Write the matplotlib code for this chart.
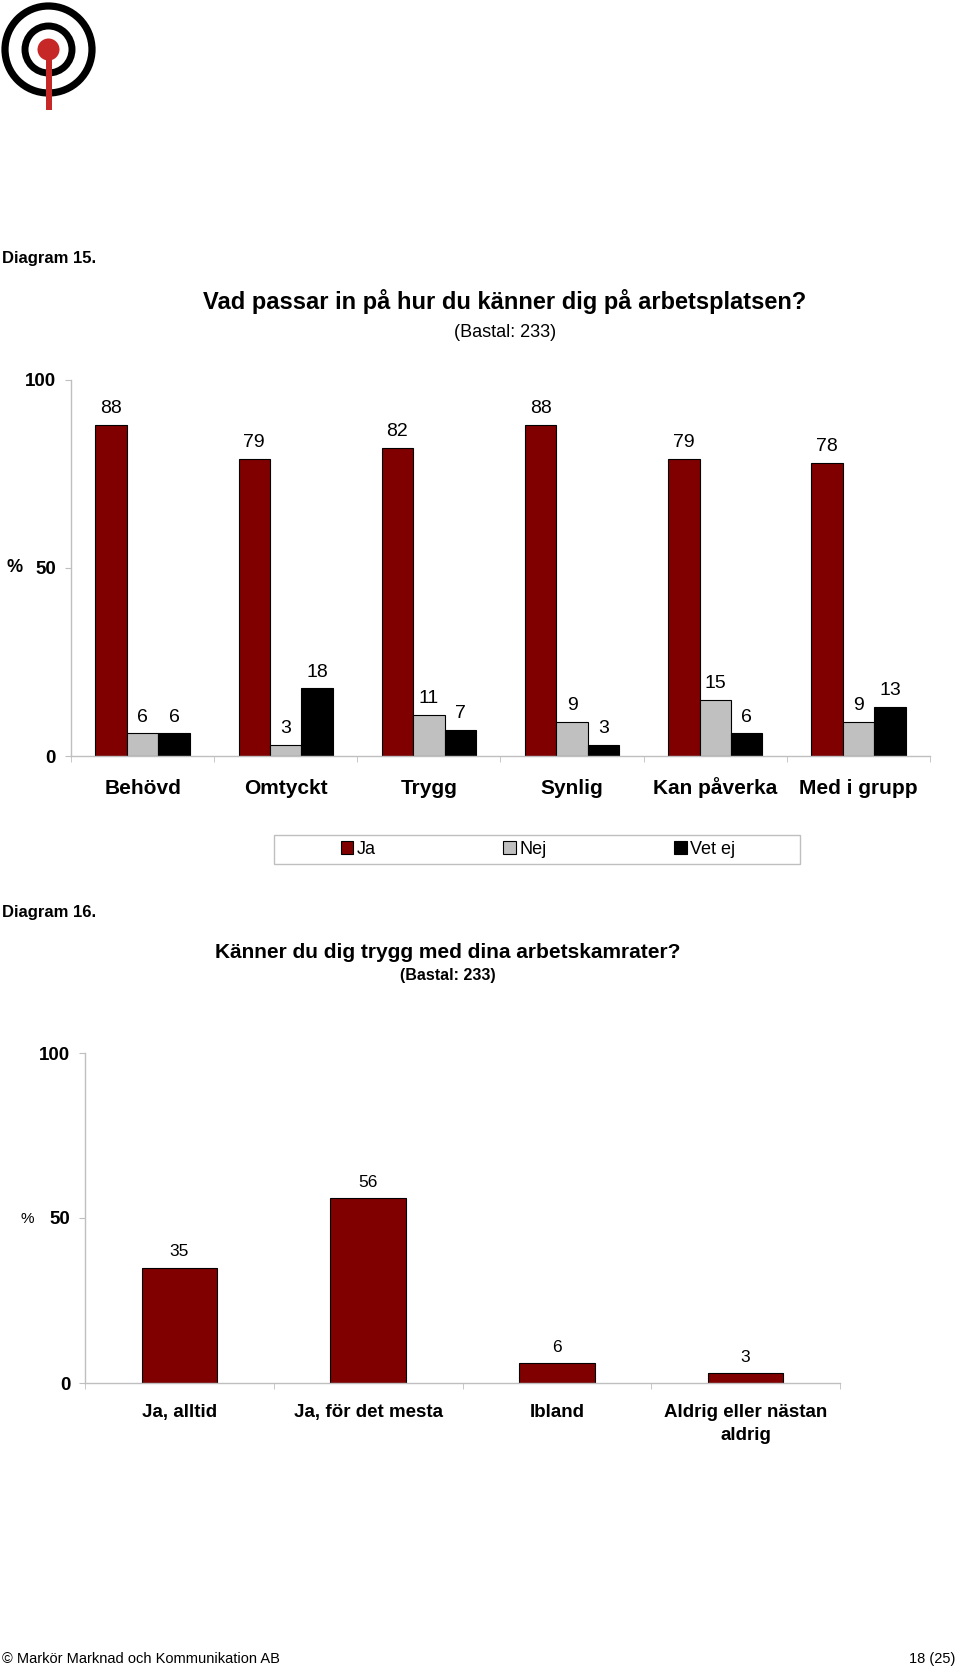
import matplotlib.pyplot as plt
from matplotlib.patches import Circle, Rectangle
import numpy as np

# data
kategorier15 = ['Behövd', 'Omtyckt', 'Trygg', 'Synlig', 'Kan påverka', 'Med i grupp']
ja = [88, 79, 82, 88, 79, 78]
nej = [6, 3, 11, 9, 15, 9]
vet_ej = [6, 18, 7, 3, 6, 13]
serier = ['Ja', 'Nej', 'Vet ej']

kategorier16 = ['Ja, alltid', 'Ja, för det mesta', 'Ibland', 'Aldrig eller nästan\naldrig']
varden16 = [35, 56, 6, 3]

yticks = [0, 50, 100]

W, H = 960, 1669
RED = '#800000'
GRAY = '#C0C0C0'
AXC = '#BFBFBF'
ARIAL = ['Liberation Sans', 'DejaVu Sans']

plt.rcParams['font.family'] = ARIAL

fig = plt.figure(figsize=(W / 100, H / 100), dpi=100)


def fx(px):
    return px / W


def fy(py):
    return 1 - py / H


def axrect(left, top, right, bottom):
    return [fx(left), fy(bottom), (right - left) / W, (bottom - top) / H]


def style_axes(ax, n, pad_y, pad_x):
    for s in ['top', 'right']:
        ax.spines[s].set_visible(False)
    for s in ['left', 'bottom']:
        ax.spines[s].set_color(AXC)
        ax.spines[s].set_linewidth(1.0)
    ax.set_ylim(0, 100)
    ax.set_xlim(-0.5, n - 0.5)
    ax.set_yticks(yticks)
    ax.set_yticklabels([str(t) for t in yticks], fontsize=13.5, fontweight='bold')
    ax.tick_params(axis='y', length=4, color=AXC, pad=pad_y)
    ax.set_xticks(np.arange(n))
    ax.set_xticks(np.arange(n + 1) - 0.5, minor=True)
    ax.tick_params(axis='x', which='major', length=0, pad=pad_x)
    ax.tick_params(axis='x', which='minor', length=4, color=AXC)


# logo
lax = fig.add_axes([0, fy(115), 115 / W, 115 / H])
lax.set_xlim(0, 115)
lax.set_ylim(115, 0)
lax.axis('off')
lax.add_patch(Circle((48.5, 49.5), 43.5, fill=False, lw=5.2, ec='black'))
lax.add_patch(Circle((48.5, 49.5), 23.5, fill=False, lw=5.0, ec='black'))
lax.add_patch(Rectangle((45.5, 55), 6, 55, color='#C62828', lw=0))
lax.add_patch(Circle((48.5, 49.5), 11, color='#C62828', lw=0))

# Diagram 15
fig.text(fx(2), fy(259), 'Diagram 15.', fontsize=12, fontweight='bold', va='center')
fig.text(fx(505), fy(301), 'Vad passar in på hur du känner dig på arbetsplatsen?',
         fontsize=17, fontweight='bold', ha='center', va='center')
fig.text(fx(505), fy(332), '(Bastal: 233)', fontsize=13, ha='center', va='center')

ax1 = fig.add_axes(axrect(71, 380, 930, 756))
x = np.arange(len(kategorier15))
bw = 0.22
for off, vals, col in zip([-bw, 0, bw], [ja, nej, vet_ej], [RED, GRAY, 'black']):
    bars = ax1.bar(x + off, vals, width=bw, color=col, edgecolor='black', linewidth=0.8)
    for b, v in zip(bars, vals):
        ax1.annotate(str(v), (b.get_x() + b.get_width() / 2, v), xytext=(0, 8.5),
                     textcoords='offset points', ha='center', va='baseline', fontsize=14)
style_axes(ax1, len(kategorier15), 7, 27.4)
ax1.set_xticklabels(kategorier15, fontsize=15, fontweight='bold', va='baseline')
fig.text(fx(15), fy(568), '%', fontsize=13, fontweight='bold', ha='center', va='center')

# legend
fig.patches.append(Rectangle((fx(274), fy(864)), 526 / W, 29 / H, transform=fig.transFigure,
                             fill=False, ec=AXC, lw=1.0))
handles = [Rectangle((0, 0), 1, 1, fc=c, ec='black', lw=0.8) for c in [RED, GRAY, 'black']]
fig.legend(handles, serier, loc='center', bbox_to_anchor=(fx(538), fy(849.5)), ncol=3,
           frameon=False, fontsize=13, handlelength=0.7, handleheight=0.7,
           handletextpad=0.2, columnspacing=7.05)

# Diagram 16
fig.text(fx(2), fy(912), 'Diagram 16.', fontsize=12, fontweight='bold', va='center')
fig.text(fx(448), fy(952), 'Känner du dig trygg med dina arbetskamrater?',
         fontsize=15, fontweight='bold', ha='center', va='center')
fig.text(fx(448), fy(975), '(Bastal: 233)', fontsize=11.5, fontweight='bold', ha='center', va='center')

ax2 = fig.add_axes(axrect(85, 1053, 840, 1383))
x2 = np.arange(len(kategorier16))
bars = ax2.bar(x2, varden16, width=0.4, color=RED, edgecolor='black', linewidth=0.8)
for b, v in zip(bars, varden16):
    ax2.annotate(str(v), (b.get_x() + b.get_width() / 2, v), xytext=(0, 8),
                 textcoords='offset points', ha='center', va='baseline', fontsize=12.5)
style_axes(ax2, len(kategorier16), 6.5, 15)
ax2.set_xticklabels(kategorier16, fontsize=13.5, fontweight='bold', linespacing=1.5,
                    va='top')
fig.text(fx(27), fy(1219), '%', fontsize=11, ha='center', va='center')

# footer
fig.text(fx(2), fy(1659), '© Markör Marknad och Kommunikation AB', fontsize=10.5,
         va='center')
fig.text(fx(955), fy(1659), '18 (25)', fontsize=10.5, va='center', ha='right')

fig.savefig('out.png', dpi=100)
